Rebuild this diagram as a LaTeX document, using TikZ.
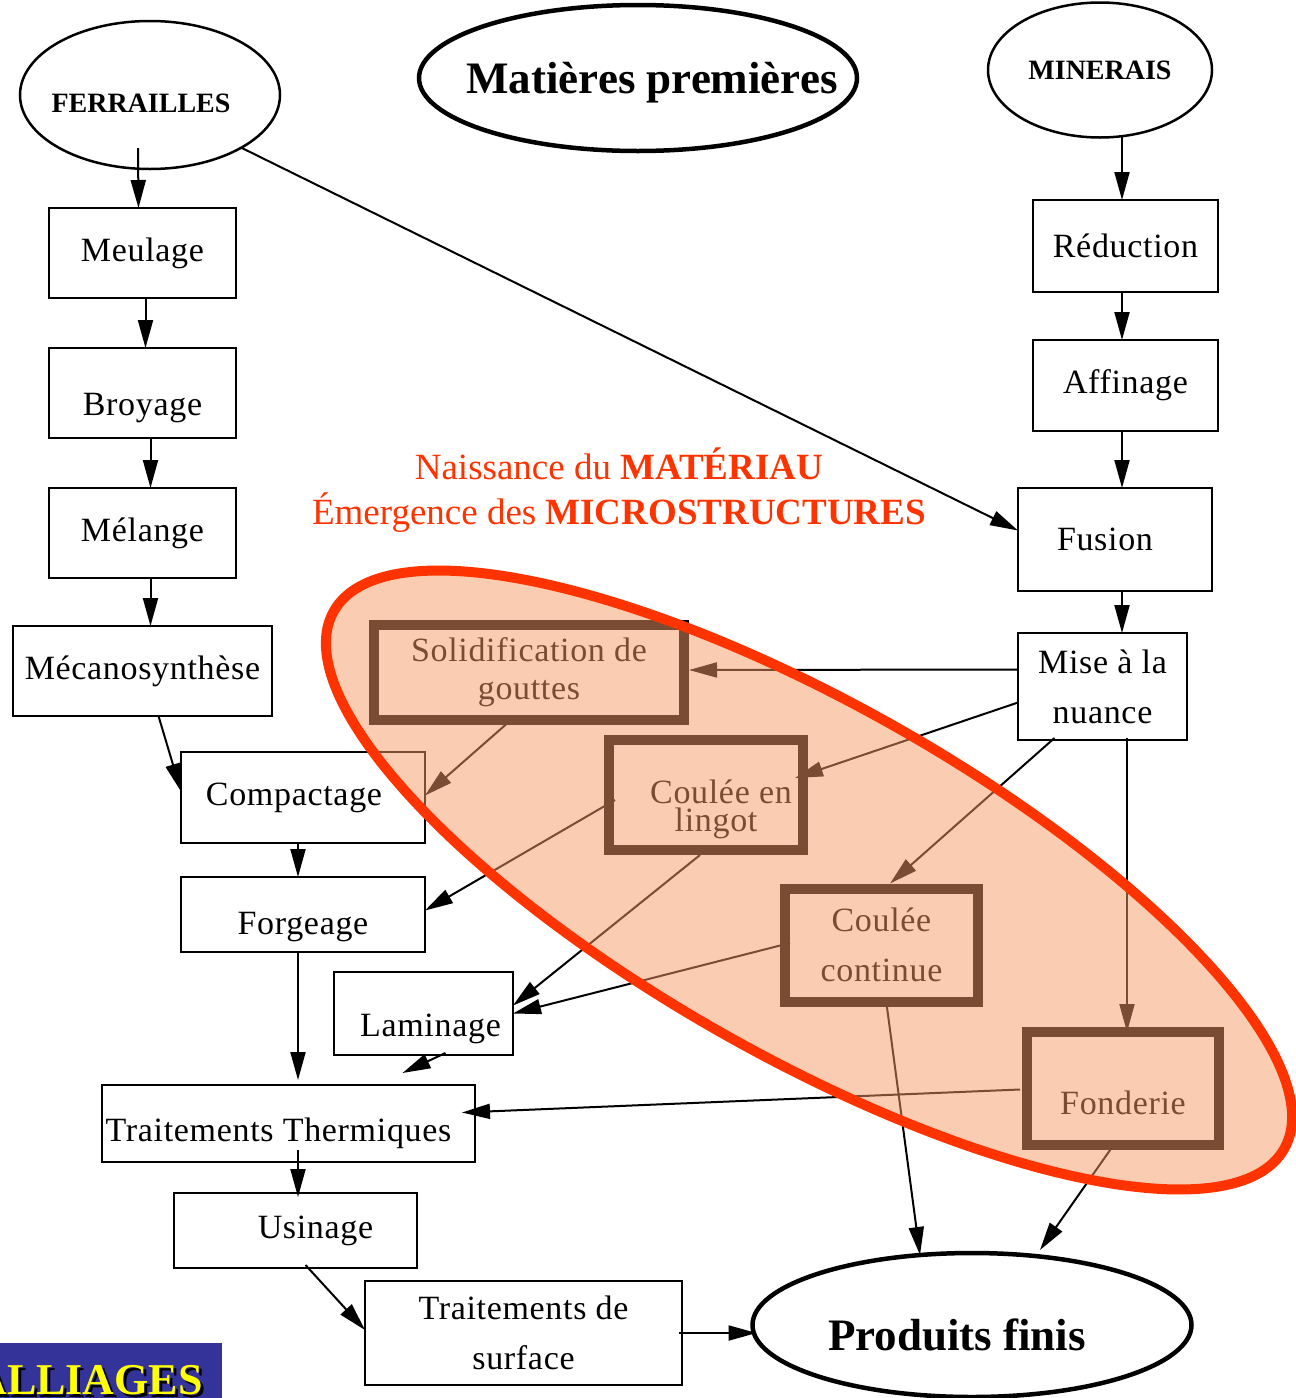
\documentclass[tikz,border=0pt]{standalone}
\usepackage{fontspec}
\setmainfont{Liberation Serif}
\newfontfamily\espace[LetterSpace=2.0]{Liberation Serif}
\usetikzlibrary{shapes.geometric,arrows.meta,calc}

\definecolor{rouge}{RGB}{255,51,0}
\definecolor{peche}{RGB}{245,153,102}
\definecolor{bleu}{RGB}{51,51,153}
\definecolor{jaune}{RGB}{255,255,0}

\tikzstyle{etape} = [draw, rectangle, line width=2.5pt, inner sep=0pt, outer sep=0pt, align=center, font={\espace\fontsize{34}{50}\selectfont}]
\tikzstyle{coulee} = [etape, line width=10pt]
\tikzstyle{origine} = [draw, ellipse, line width=2.5pt, inner sep=0pt, inner xsep=-20pt, outer sep=0pt, font={\bfseries\fontsize{28}{32}\selectfont}]
\tikzstyle{bilan} = [origine, line width=4.5pt, font={\bfseries\fontsize{45}{50}\selectfont}]
\tikzstyle{fleche} = [-{Triangle[length=28pt,width=15pt]}, line width=2pt]

\begin{document}
\begin{tikzpicture}[x=1pt, y=-1pt]
\useasboundingbox (0,0) rectangle (1296,1398);

% matieres premieres
\node[origine, minimum width=260pt, minimum height=148pt, text height=35pt, text depth=0pt] (fer) at (150,95) {FERRAILLES\hspace*{18pt}};
\node[bilan, inner xsep=-70pt, minimum width=438pt, minimum height=146pt, text height=41pt, text depth=10pt] (mp) at (638,78) {\hspace*{28pt}Matières premières};
\node[origine, minimum width=224pt, minimum height=135pt] (mine) at (1100,70) {MINERAIS};

% filiere poudres
\node[etape, minimum width=187pt, minimum height=90pt] (meul) at (142.5,253) {Meulage};
\node[etape, minimum width=187pt, minimum height=90pt, text height=50pt, text depth=6pt] (broy) at (142.5,393) {Broyage};
\node[etape, minimum width=187pt, minimum height=90pt] (mel) at (142.5,533) {Mélange};
\node[etape, minimum width=259pt, minimum height=90pt] (meca) at (142.5,671) {Mécanosynthèse};
\node[etape, minimum width=244pt, minimum height=91pt] (compact) at (303,797.5) {Compactage\hspace*{18pt}};
\node[etape, minimum width=244pt, minimum height=75pt, text height=45pt, text depth=6pt] (forg) at (303,914.5) {Forgeage};
\node[etape, minimum width=179pt, minimum height=83pt, text height=52pt, text depth=6pt] (lamin) at (423.5,1013.5) {\hspace*{14pt}Laminage};
\node[etape, minimum width=373pt, minimum height=77pt, text height=41pt, text depth=6pt] (tt) at (288.5,1123.5) {Traitements Thermiques\hspace*{20pt}};
\node[etape, minimum width=243pt, minimum height=75pt] (usin) at (295.5,1230.5) {\hspace*{40pt}Usinage};
\node[etape, minimum width=317pt, minimum height=104pt] (ts) at (523.5,1333) {Traitements de\\surface};
\node[bilan, minimum width=439pt, minimum height=144pt, text height=51pt, text depth=0pt] (pf) at (972,1325) {Produits finis\hspace*{30pt}};

% filiere minerai
\node[etape, minimum width=185pt, minimum height=92pt] (reduc) at (1125.5,246) {Réduction};
\node[etape, minimum width=185pt, minimum height=91pt] (aff) at (1125.5,385.5) {Affinage};
\node[etape, minimum width=194pt, minimum height=103pt] (fusion) at (1115,539.5) {Fusion\hspace*{20pt}};
\node[etape, minimum width=169pt, minimum height=107pt] (mise) at (1102.5,686.5) {Mise à la\\nuance};

% coulees
\node[coulee, minimum width=310pt, minimum height=95pt, font={\espace\fontsize{34}{38}\selectfont}] (solid) at (529,672) {Solidification de\\gouttes};
\node[coulee, minimum width=194pt, minimum height=110pt, font={\espace\fontsize{34}{28}\selectfont}] (lingot) at (706,795) {\rule{0pt}{52pt}\hspace*{30pt}Coulée en\\\hspace*{20pt}lingot};
\node[coulee, minimum width=193pt, minimum height=113pt] (cont) at (881.5,945) {Coulée\\continue};
\node[coulee, minimum width=192pt, minimum height=113pt, text height=58pt, text depth=6pt] (fond) at (1123,1088.5) {Fonderie};

\node[text=rouge, align=center, font={\fontsize{37}{45}\selectfont}] (naissance) at (619,490)
  {Naissance du \textbf{MATÉRIAU}\\Émergence des \textbf{MICROSTRUCTURES}};

% fleches
\draw[fleche] ($(fer.south)+(-12,-21)$) -- ($(meul.north)+(-4,0)$);
\draw[fleche] (fer.-30) -- ($(fusion.west)+(0,-9)$);
\draw[fleche] ($(meul.south)+(3,0)$) -- ($(broy.north)+(3,0)$);
\draw[fleche] ($(broy.south)+(8,0)$) -- ($(mel.north)+(8,0)$);
\draw[fleche] ($(mel.south)+(8,0)$) -- ($(meca.north)+(8,0)$);
\draw[fleche] ($(meca.south)+(16,0)$) -- ($(compact.west)+(0,-6)$);
\draw[fleche] ($(compact.south)+(-5,0)$) -- ($(forg.north)+(-5,0)$);
\draw[fleche] ($(forg.south)+(-5,0)$) -- ($(tt.north)+(9.5,-5)$);
\draw[fleche] ($(lamin.south)+(22,-2)$) -- ($(tt.north)+(114,-12)$);
\draw[fleche] ($(tt.south)+(9.5,-12)$) -- ($(usin.north)+(2.5,4)$);
\draw[fleche] ($(usin.south)+(10,-3)$) -- ($(ts.west)+(0,-3)$);
\draw[fleche] ($(ts.east)+(-3,0)$) -- ($(pf.west)+(4,8)$);
\draw[fleche] ($(mine.south)+(22,-2)$) -- ($(reduc.north)+(-3.5,0)$);
\draw[fleche] ($(reduc.south)+(-3.5,0)$) -- ($(aff.north)+(-3.5,0)$);
\draw[fleche] ($(aff.south)+(-3.5,0)$) -- ($(fusion.north)+(7,0)$);
\draw[fleche] ($(fusion.south)+(7,0)$) -- ($(mise.north)+(19.5,0)$);
\draw[fleche] ($(mise.west)+(0,-17)$) -- ($(solid.east)+(5,-2)$);
\draw[fleche] ($(mise.west)+(0,16)$) -- ($(lingot.east)+(-8,-17)$);
\draw[fleche] ($(mise.south)+(-48,-2)$) -- ($(cont.north)+(8.5,-5)$);
\draw[fleche] ($(mise.south)+(24.5,-2)$) -- ($(fond.north)+(4,0)$);
\draw[fleche] ($(solid.south)+(-14,-3)$) -- ($(compact.east)+(0,-2)$);
\draw[fleche] ($(lingot.west)+(6,5)$) -- ($(forg.east)+(0,-4)$);
\draw[fleche] ($(lingot.south)+(-6,5)$) -- ($(lamin.east)+(0,-8)$);
\draw[fleche] ($(cont.west)+(5,-2)$) -- (lamin.east);
\draw[fleche] ($(cont.south)+(5,2)$) -- ($(pf.north)+(-52,2)$);
\draw[fleche] ($(fond.west)+(-7,1)$) -- ($(tt.east)+(-13,-11)$);
\draw[fleche] ($(fond.south)+(-8,-2)$) -- ($(pf.north)+(68,-3)$);

% zone de solidification
\fill[peche, fill opacity=0.5, rotate around={-29.5:(809,880)}] (809,880) ellipse [x radius=546, y radius=176];
\draw[rouge, line width=10pt, rotate around={-29.5:(809,880)}] (809,880) ellipse [x radius=546, y radius=176];

% cartouche
\begin{scope}
\clip (0,1343) rectangle (222,1398);
\fill[bleu] (0,1343) rectangle (222,1398);
\node[anchor=base east, text=black, inner sep=0pt, font={\bfseries\fontsize{44}{48}\selectfont}] (ombre) at (206,1397) {ALLIAGES};
\node[anchor=base east, text=jaune, inner sep=0pt, font={\bfseries\fontsize{44}{48}\selectfont}] (alliages) at (203,1394) {ALLIAGES};
\end{scope}
\end{tikzpicture}
\end{document}
